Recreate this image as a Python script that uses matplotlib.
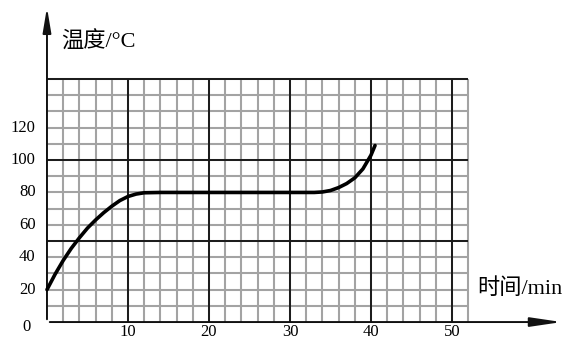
import matplotlib.pyplot as plt
import numpy as np

# heating curve
time_min = [0, 1, 2, 3, 4, 5, 6, 7, 8, 9, 10, 11, 12, 14, 16, 20, 25, 30, 33, 34,
            35, 36, 37, 38, 39, 40, 40.5]
temp_c = [20, 29.5, 38, 45.5, 52, 58, 63, 67.5, 71.5, 75, 77.5, 79, 79.8, 80, 80, 80, 80, 80, 80, 80.3,
          81.2, 83, 85.5, 89, 94.5, 103, 109]

x_ticks = [10, 20, 30, 40, 50]
y_ticks = [0, 20, 40, 60, 80, 100, 120]
x_major = [10, 20, 30, 40, 50]
y_major = [50, 100, 150]
x_minor = np.arange(2, 53, 2)
y_minor = np.arange(10, 151, 10)

plt.rcParams['font.family'] = ['Liberation Serif', 'Noto Sans CJK SC']

fig = plt.figure(figsize=(5.67, 3.41), dpi=100)
ax = fig.add_axes([0, 0, 1, 1])
ax.set_xlim(-5.8, 64.2)
ax.set_ylim(-11.7, 198.8)
ax.axis('off')

# grid
ax.vlines(x_minor, 0, 150, color='#a3a3a3', lw=1.5, zorder=1)
ax.hlines(y_minor, 0, 52, color='#a3a3a3', lw=1.5, zorder=1)
ax.vlines(x_major, 0, 150, color='#1a1a1a', lw=1.4, zorder=2)
ax.hlines(y_major, 0, 52, color='#1a1a1a', lw=1.4, zorder=2)

# axes with arrows
ax.annotate('', xy=(0, 196), xytext=(0, 0),
            arrowprops=dict(arrowstyle='-|>,head_length=1.5,head_width=0.25', color='#111', lw=1.4))
ax.annotate('', xy=(63.9, 0), xytext=(0, 0),
            arrowprops=dict(arrowstyle='-|>,head_length=1.9,head_width=0.28', color='#111', lw=1.4))

# curve
ax.plot(time_min, temp_c, color='black', lw=2.6, solid_capstyle='round', zorder=3)

# tick labels
for t in x_ticks:
    ax.text(t, -11.2, str(t), ha='center', va='bottom', fontsize=12)
for v in y_ticks[1:]:
    ax.text(-1.4, v, str(v), ha='right', va='center', fontsize=12)
ax.text(-2.0, -3, '0', ha='right', va='center', fontsize=12)

ax.text(1.7, 172.5, '温度/°C', ha='left', va='center', fontsize=16)
ax.text(53.1, 20.5, '时间/min', ha='left', va='center', fontsize=16)

fig.savefig('out.png', dpi=100)
